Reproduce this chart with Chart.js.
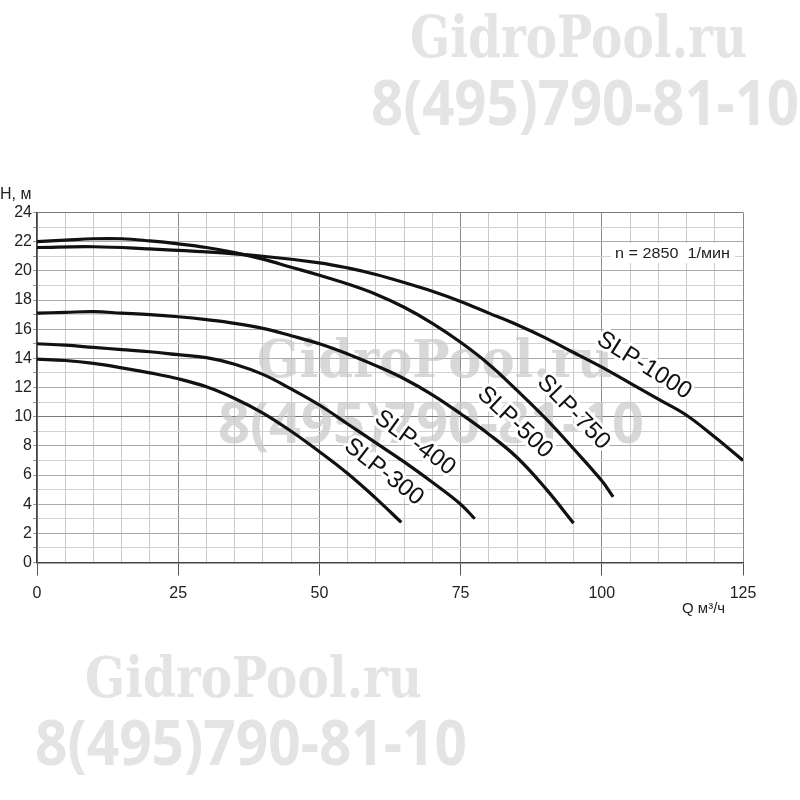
<!DOCTYPE html>
<html lang="ru">
<head>
<meta charset="UTF-8">
<title>SLP – напорные характеристики</title>
<script src="https://cdn.jsdelivr.net/npm/chart.js"></script>
<style>
  html, body { margin: 0; padding: 0; background: #fff; }
  #wrap { width: 800px; height: 800px; }
</style>
</head>
<body>
<div id="wrap"><canvas id="pumpChart" width="800" height="800"></canvas></div>
<script>
// подача Q (м3/ч) и напор H (м) для каждой модели
const q300  = [0, 5, 10, 15, 20, 25, 30, 35, 40, 45, 50, 55, 60, 64.5];
const h300  = [13.95, 13.85, 13.65, 13.35, 13.0, 12.6, 12.05, 11.25, 10.25, 9.0, 7.6, 6.1, 4.4, 2.75];

const q400  = [0, 5, 10, 15, 20, 25, 30, 35, 40, 45, 50, 55, 60, 65, 70, 75, 77.5];
const h400  = [15.0, 14.9, 14.75, 14.6, 14.45, 14.25, 14.05, 13.6, 12.9, 11.9, 10.8, 9.5, 8.2, 6.9, 5.5, 4.0, 3.0];

const q500  = [0, 5, 10, 15, 20, 25, 30, 35, 40, 45, 50, 55, 60, 65, 70, 75, 80, 85, 90, 95];
const h500  = [17.1, 17.15, 17.2, 17.1, 17.0, 16.85, 16.65, 16.4, 16.05, 15.55, 15.0, 14.3, 13.5, 12.6, 11.5, 10.2, 8.8, 7.2, 5.1, 2.7];

const q750  = [0, 5, 10, 15, 20, 25, 30, 35, 40, 45, 50, 55, 60, 65, 70, 75, 80, 85, 90, 95, 100, 102];
const h750  = [22.0, 22.1, 22.2, 22.2, 22.05, 21.85, 21.6, 21.25, 20.8, 20.25, 19.7, 19.1, 18.4, 17.5, 16.4, 15.1, 13.6, 11.8, 9.9, 7.8, 5.6, 4.5];

const q1000 = [0, 10, 20, 30, 40, 50, 55, 60, 65, 70, 75, 80, 85, 90, 95, 100, 105, 110, 115, 120, 125];
const h1000 = [21.6, 21.65, 21.5, 21.3, 21.0, 20.55, 20.2, 19.75, 19.2, 18.6, 17.9, 17.1, 16.3, 15.4, 14.4, 13.4, 12.3, 11.2, 10.1, 8.6, 7.0];

const models = ['SLP-300', 'SLP-400', 'SLP-500', 'SLP-750', 'SLP-1000'];

// оси
const qMin = 0, qMax = 125, qStep = 5;
const hMin = 0, hMax = 24, hStep = 1;

const toPts = (qs, hs) => qs.map((q, i) => ({ x: q, y: hs[i] }));

// подписи кривых (в координатах графика) и их наклон
const curveLabels = [
  { text: 'SLP-1000', q: 107.5, h: 13.5, angle: 32 },
  { text: 'SLP-750',  q: 95.0,  h: 10.3, angle: 46 },
  { text: 'SLP-500',  q: 84.6,  h: 9.6,  angle: 43 },
  { text: 'SLP-400',  q: 66.9,  h: 8.2,  angle: 36 },
  { text: 'SLP-300',  q: 61.4,  h: 6.2,  angle: 38 }
];

function stretchText(ctx, text, font, left, baseline, width, color) {
  ctx.save();
  ctx.font = font;
  const w = ctx.measureText(text).width;
  ctx.translate(left, baseline);
  ctx.scale(width / w, 1);
  ctx.fillStyle = color;
  ctx.textAlign = 'left';
  ctx.textBaseline = 'alphabetic';
  ctx.fillText(text, 0, 0);
  ctx.restore();
}

const extras = {
  id: 'extras',
  beforeDraw(chart) {
    const ctx = chart.ctx;
    ctx.save();
    ctx.fillStyle = '#fff';
    ctx.fillRect(0, 0, chart.width, chart.height);
    ctx.restore();
    // водяные знаки сверху и снизу
    const wm = '#e4e4e4';
    stretchText(ctx, 'GidroPool.ru', 'bold 58px "DejaVu Serif"', 410, 57, 337, wm);
    stretchText(ctx, '8(495)790-81-10', 'bold 62px "Open Sans"', 371, 125, 428, wm);
    stretchText(ctx, 'GidroPool.ru', 'bold 56px "DejaVu Serif"', 85, 697, 337, wm);
    stretchText(ctx, '8(495)790-81-10', 'bold 62px "Open Sans"', 35, 765, 432, wm);
  },
  beforeDatasetsDraw(chart) {
    const ctx = chart.ctx;
    const xs = chart.scales.x, ys = chart.scales.y;
    // водяной знак в центре
    const wm2 = 'rgba(200,200,200,0.7)';
    stretchText(ctx, 'GidroPool.ru', 'bold 52px "DejaVu Serif"', 257, 377, 356, wm2);
    stretchText(ctx, '8(495)790-81-10', 'bold 58px "Open Sans"', 218, 443, 426, wm2);

    // частота вращения
    ctx.save();
    ctx.fillStyle = '#fff';
    ctx.fillRect(611, 243, 124, 20);
    ctx.restore();
    stretchText(ctx, 'n = 2850  1/мин', '15px "Liberation Sans"', 615, 258, 115, '#222');

    // подписи моделей
    ctx.save();
    ctx.font = '24px "Liberation Sans"';
    ctx.textAlign = 'center';
    ctx.textBaseline = 'middle';
    ctx.lineJoin = 'round';
    curveLabels.forEach(l => {
      ctx.save();
      ctx.translate(xs.getPixelForValue(l.q), ys.getPixelForValue(l.h));
      ctx.rotate(l.angle * Math.PI / 180);
      ctx.strokeStyle = '#fff';
      ctx.lineWidth = 6;
      ctx.strokeText(l.text, 0, 0);
      ctx.fillStyle = '#111';
      ctx.fillText(l.text, 0, 0);
      ctx.restore();
    });
    ctx.restore();
  },
  afterDraw(chart) {
    const ctx = chart.ctx;
    ctx.save();
    ctx.fillStyle = '#222';
    ctx.textAlign = 'left';
    ctx.textBaseline = 'alphabetic';
    ctx.font = '16px "Liberation Sans"';
    ctx.fillText('H, м', 0, 199);
    ctx.font = '15px "Liberation Sans"';
    ctx.fillText('Q м³/ч', 682, 613);
    ctx.restore();
  }
};

const allQ = [q300, q400, q500, q750, q1000];
const allH = [h300, h400, h500, h750, h1000];

const ctx = document.getElementById('pumpChart').getContext('2d');
const pumpChart = new Chart(ctx, {
  type: 'line',
  data: {
    datasets: models.map((m, i) => ({
      label: m,
      data: toPts(allQ[i], allH[i]),
      borderColor: '#111',
      borderWidth: 3.2,
      pointRadius: 0,
      fill: false,
      tension: 0.4
    }))
  },
  options: {
    responsive: false,
    animation: false,
    layout: { padding: { top: 212.5, right: 57, left: 0, bottom: 0 } },
    plugins: { legend: { display: false }, tooltip: { enabled: false } },
    scales: {
      x: {
        type: 'linear',
        min: qMin, max: qMax,
        afterFit: s => { s.height = 237.5; },
        border: { color: '#444', width: 1.5 },
        grid: {
          color: c => c.tick.value % 25 === 0 ? '#8a8a8a' : '#cacaca',
          tickColor: c => c.tick.value % 25 === 0 ? '#555' : 'rgba(0,0,0,0)',
          tickLength: 13
        },
        ticks: {
          stepSize: qStep,
          autoSkip: false,
          maxRotation: 0,
          padding: 8,
          color: '#222',
          font: { family: 'Liberation Sans', size: 16 },
          callback: v => v % 25 === 0 ? v : ''
        }
      },
      y: {
        type: 'linear',
        min: hMin, max: hMax,
        afterFit: s => { s.width = 37; },
        border: { color: '#444', width: 1.5 },
        grid: {
          color: c => (c.tick.value === 10 || c.tick.value === 24) ? '#7a7a7a'
                    : c.tick.value % 2 === 0 ? '#a9a9a9' : '#d2d2d2',
          tickColor: '#999',
          tickLength: 4
        },
        ticks: {
          stepSize: hStep,
          autoSkip: false,
          padding: 1,
          color: '#222',
          font: { family: 'Liberation Sans', size: 16 },
          callback: v => v % 2 === 0 ? v : ''
        }
      }
    }
  },
  plugins: [extras]
});
</script>
</body>
</html>
